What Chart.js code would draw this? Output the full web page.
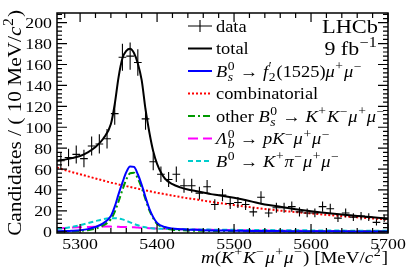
<!DOCTYPE html>
<html>
<head>
<meta charset="utf-8">
<script src="https://cdn.jsdelivr.net/npm/chart.js@4.4.0/dist/chart.umd.min.js"></script>
<style>
  html, body { margin: 0; padding: 0; background: #fff; }
  canvas { display: block; }
</style>
</head>
<body>
<canvas id="myChart" width="409" height="277"></canvas>
<script>
// data points (10 MeV bins)
const binCenters = [5275, 5285, 5295, 5305, 5315, 5325, 5335, 5345, 5355, 5365,
    5375, 5385, 5395, 5405, 5415, 5425, 5435, 5445, 5455, 5465,
    5475, 5485, 5495, 5505, 5515, 5525, 5535, 5545, 5555, 5565,
    5575, 5585, 5595, 5605, 5615, 5625, 5635, 5645, 5655, 5665,
    5675, 5685, 5695];
const counts = [68, 71, 74, 70, 82, 84, 89, 113, 167, 168,
    162, 108, 67, 55, 50, 55, 44, 44, 37, 43,
    26, 35, 27, 28, 26, 19, 33, 18, 23, 23,
    24, 19, 18, 18, 24, 22, 13, 18, 14, 15,
    14, 9, 13];
const errors = [8.2, 8.4, 8.6, 8.4, 9.1, 9.2, 9.4, 10.6, 12.9, 13,
    12.7, 10.4, 8.2, 7.4, 7.1, 7.4, 6.6, 6.6, 6.1, 6.6,
    5.1, 5.9, 5.2, 5.3, 5.1, 4.4, 5.7, 4.2, 4.8, 4.8,
    4.9, 4.4, 4.2, 4.2, 4.9, 4.7, 3.6, 4.2, 3.7, 3.9,
    3.7, 3, 3.6];

// fit curves, read at these masses
const massGrid = [5270, 5280, 5290, 5300, 5310, 5320, 5330, 5340, 5345, 5350,
    5355, 5360, 5365, 5370, 5375, 5380, 5385, 5390, 5395, 5400,
    5410, 5420, 5430, 5440, 5450, 5460, 5470, 5480, 5500, 5520,
    5540, 5560, 5580, 5600, 5620, 5640, 5660, 5680, 5700];
const totalFit = [68, 69, 70.5, 72.5, 76, 81, 89, 103, 122, 148,
    166, 173, 175, 171, 161, 145, 117, 95, 77, 65,
    51, 45.5, 42.5, 40.5, 39, 37.5, 36, 35, 32.5, 29.5,
    26, 24, 21.5, 19.5, 18, 16.5, 15, 13.8, 12.5];
const signalFit = [0.5, 0.7, 1, 1.5, 2.5, 4.5, 8, 15, 24, 36,
    47, 57, 62.5, 62, 55, 45, 33, 22, 14, 8.5,
    4.5, 3, 2.5, 2, 1.8, 1.5, 1.3, 1.2, 1, 0.8,
    0.7, 0.6, 0.5, 0.5, 0.4, 0.4, 0.3, 0.3, 0.3];
const combFit = [61.5, 59, 57, 55, 53, 51, 49, 47, 46.3, 45.3,
    44.5, 43.7, 42.8, 42, 41.2, 40.3, 39.5, 38.8, 38, 37.3,
    36, 34.6, 33.3, 32, 31, 29.8, 28.7, 27.6, 25.5, 23.6,
    21.8, 20.2, 18.8, 17.5, 16.2, 15, 13.8, 12.7, 11.7];
const otherBsFit = [0.2, 0.3, 0.5, 0.8, 1.5, 3, 6, 12, 19, 29,
    40, 50, 56, 56.5, 51, 42, 31, 20.5, 13, 7.5,
    3.5, 2, 1.5, 1.2, 1, 0.9, 0.8, 0.7, 0.6, 0.5,
    0.4, 0.4, 0.3, 0.3, 0.3, 0.2, 0.2, 0.2, 0.2];
const lambdaFit = [3, 3.5, 4, 4.3, 4.6, 4.8, 4.9, 4.9, 4.8, 4.7,
    4.6, 4.5, 4.3, 4.2, 4, 3.8, 3.6, 3.4, 3.3, 3.1,
    2.9, 2.7, 2.5, 2.3, 2.1, 2, 1.8, 1.7, 1.5, 1.3,
    1.1, 1, 0.9, 0.8, 0.7, 0.6, 0.6, 0.5, 0.5];
const b0Fit = [2.8, 3.5, 4.7, 6.3, 8.2, 10.2, 12, 13, 13, 12.6,
    11.8, 10.5, 9, 7.5, 6.2, 5, 4.2, 3.6, 3.2, 3,
    2.7, 2.5, 2.4, 2.3, 2.2, 2.1, 2, 1.9, 1.8, 1.7,
    1.6, 1.5, 1.4, 1.3, 1.2, 1.1, 1, 1, 0.9];

const xTicks = [5300, 5400, 5500, 5600, 5700];
const yTicks = [0, 20, 40, 60, 80, 100, 120, 140, 160, 180, 200];

const BLACK = "#000000";
const BLUE = "#0000ff";
const RED = "#ff0000";
const GREEN = "#009900";
const MAGENTA = "#ff00ff";
const CYAN = "#00cccc";

const plotFont = '"Liberation Serif", "Times New Roman", serif';
const SX = 1.15;
const SUP = 0.74;

let curve = (vals) => massGrid.map((m, i) => ({ x: m, y: vals[i] }));

let lineSet = (label, vals, color, dash, order) => ({
    type: 'line',
    label: label,
    data: curve(vals),
    borderColor: color,
    borderWidth: 2,
    borderDash: dash,
    pointRadius: 0,
    fill: false,
    cubicInterpolationMode: 'monotone',
    order: order
});

// rich text helpers (sub/superscripts)
let fontOf = (it, size) => (it ? 'italic ' : '') + size + 'px ' + plotFont;

function partW(ctx, p, size) {
    if ('t' in p) {
        ctx.font = fontOf(p.it, size);
        return ctx.measureText(p.t).width;
    }
    let s = size * SUP, w = 0;
    if (p.sup) { ctx.font = fontOf(p.supIt, s); w = Math.max(w, ctx.measureText(p.sup).width); }
    if (p.sub) { ctx.font = fontOf(p.subIt, s); w = Math.max(w, ctx.measureText(p.sub).width); }
    return w + size * 0.08;
}

function drawRich(ctx, parts, x, y, size, align, sx) {
    ctx.save();
    let w = 0;
    parts.forEach(p => w += partW(ctx, p, size));
    ctx.translate(x, y);
    ctx.scale(sx, 1);
    let cx = align === 'right' ? -w : (align === 'center' ? -w / 2 : 0);
    ctx.textAlign = 'left';
    ctx.textBaseline = 'alphabetic';
    ctx.fillStyle = BLACK;
    parts.forEach(p => {
        let pw = partW(ctx, p, size);
        if ('t' in p) {
            ctx.font = fontOf(p.it, size);
            ctx.fillText(p.t, cx, 0);
        } else {
            let s = size * SUP;
            if (p.sup) { ctx.font = fontOf(p.supIt, s); ctx.fillText(p.sup, cx + size * 0.03, -size * 0.4); }
            if (p.sub) { ctx.font = fontOf(p.subIt, s); ctx.fillText(p.sub, cx + size * 0.03, size * 0.25); }
        }
        cx += pw;
    });
    ctx.restore();
}

const T = (t, it) => ({ t: t, it: !!it });
const S = (sup, sub, subIt) => ({ sup: sup, sub: sub, supIt: false, subIt: !!subIt });

const legendRows = [
    { kind: 'data', parts: [T('data')] },
    { kind: 'line', color: BLACK, dash: [], parts: [T('total')] },
    { kind: 'line', color: BLUE, dash: [], parts: [T('B', 1), S('0', 's', 1), T(' \u2192 '), T('f', 1), S('\u2032', '2'), T('(1525)'), T('\u03bc', 1), S('+'), T('\u03bc', 1), S('\u2212')] },
    { kind: 'line', color: RED, dash: [2, 2], parts: [T('combinatorial')] },
    { kind: 'line', color: GREEN, dash: [7, 3, 2, 3], parts: [T('other '), T('B', 1), S('0', 's', 1), T(' \u2192 '), T('K', 1), S('+'), T('K', 1), S('\u2212'), T('\u03bc', 1), S('+'), T('\u03bc', 1), S('\u2212')] },
    { kind: 'line', color: MAGENTA, dash: [10, 5], parts: [T('\u039b', 1), S('0', 'b', 1), T(' \u2192 '), T('p', 1), T('K', 1), S('\u2212'), T('\u03bc', 1), S('+'), T('\u03bc', 1), S('\u2212')] },
    { kind: 'line', color: CYAN, dash: [5, 3], parts: [T('B', 1), S('0'), T(' \u2192 '), T('K', 1), S('+'), T('\u03c0', 1), S('\u2212'), T('\u03bc', 1), S('+'), T('\u03bc', 1), S('\u2212')] }
];
const legendY = [26, 48.5, 71, 93.5, 116, 138.5, 161];

const rootStyle = {
    id: 'rootStyle',
    afterDatasetsDraw(chart) {
        let ctx = chart.ctx, xs = chart.scales.x, ys = chart.scales.y, a = chart.chartArea;
        // error bars
        ctx.save();
        ctx.beginPath();
        ctx.rect(a.left, a.top, a.right - a.left, a.bottom - a.top);
        ctx.clip();
        ctx.strokeStyle = BLACK;
        ctx.lineWidth = 1.1;
        binCenters.forEach((m, i) => {
            let px = xs.getPixelForValue(m), py = ys.getPixelForValue(counts[i]);
            ctx.beginPath();
            ctx.moveTo(xs.getPixelForValue(m - 5), py);
            ctx.lineTo(xs.getPixelForValue(m + 5), py);
            ctx.moveTo(px, ys.getPixelForValue(counts[i] - errors[i]));
            ctx.lineTo(px, ys.getPixelForValue(counts[i] + errors[i]));
            ctx.stroke();
        });
        ctx.restore();

        // frame and ticks
        ctx.save();
        ctx.strokeStyle = BLACK;
        ctx.lineWidth = 1.5;
        ctx.strokeRect(a.left, a.top, a.right - a.left, a.bottom - a.top);
        ctx.lineWidth = 1.2;
        ctx.beginPath();
        for (let m = 5280; m <= 5700; m += 20) {
            let px = xs.getPixelForValue(m);
            let len = (m % 100 === 0) ? 9 : 5;
            ctx.moveTo(px, a.bottom); ctx.lineTo(px, a.bottom - len);
            ctx.moveTo(px, a.top); ctx.lineTo(px, a.top + len);
        }
        for (let v = 0; v <= 208; v += 4) {
            let py = ys.getPixelForValue(v);
            let len = (v % 20 === 0) ? 10 : 5;
            ctx.moveTo(a.left, py); ctx.lineTo(a.left + len, py);
            ctx.moveTo(a.right, py); ctx.lineTo(a.right - len, py);
        }
        ctx.stroke();

        // tick labels
        xTicks.forEach(m => drawRich(ctx, [T(String(m))], xs.getPixelForValue(m), 249, 15.5, 'center', SX));
        yTicks.forEach(v => drawRich(ctx, [T(String(v))], 52, ys.getPixelForValue(v) + 5.5, 15.5, 'right', SX));

        // axis titles
        drawRich(ctx, [T('m', 1), T('('), T('K', 1), S('+'), T('K', 1), S('\u2212'), T('\u03bc', 1), S('+'), T('\u03bc', 1), S('\u2212'), T(') [MeV/'), T('c', 1), S('2'), T(']')],
            a.right, 263, 16.5, 'right', SX);
        ctx.save();
        ctx.translate(21, a.top - 3);
        ctx.rotate(-Math.PI / 2);
        drawRich(ctx, [T('Candidates / ( 10 MeV/'), T('c', 1), S('2'), T(')')], 0, 0, 19, 'right', 1.12);
        ctx.restore();

        // LHCb label
        drawRich(ctx, [T('LHCb')], 378, 33, 19.5, 'right', SX);
        drawRich(ctx, [T('9 fb'), S('\u22121')], 378, 55, 19, 'right', SX);

        // legend
        legendRows.forEach((row, i) => {
            let y = legendY[i];
            ctx.save();
            ctx.strokeStyle = row.kind === 'data' ? BLACK : row.color;
            if (row.kind === 'data') {
                ctx.lineWidth = 1.1;
                ctx.beginPath();
                ctx.moveTo(188, y); ctx.lineTo(212, y);
                ctx.moveTo(200, y - 6); ctx.lineTo(200, y + 6);
                ctx.stroke();
            } else {
                ctx.lineWidth = 2;
                ctx.setLineDash(row.dash);
                ctx.beginPath();
                ctx.moveTo(188, y); ctx.lineTo(212, y);
                ctx.stroke();
            }
            ctx.restore();
            drawRich(ctx, row.parts, 216, y + 5.5, 16, 'left', SX);
        });
        ctx.restore();
    }
};

const config = {
    data: {
        datasets: [
            {
                type: 'scatter',
                label: 'data',
                data: binCenters.map((m, i) => ({ x: m, y: counts[i] })),
                pointRadius: 0,
                order: 0
            },
            lineSet('total', totalFit, BLACK, [], 1),
            lineSet('signal', signalFit, BLUE, [], 2),
            lineSet('other Bs', otherBsFit, GREEN, [7, 3, 2, 3], 3),
            lineSet('B0', b0Fit, CYAN, [5, 3], 4),
            lineSet('Lambda_b', lambdaFit, MAGENTA, [10, 5], 5),
            lineSet('combinatorial', combFit, RED, [2, 2], 6)
        ]
    },
    options: {
        responsive: false,
        animation: false,
        devicePixelRatio: 1,
        layout: { padding: { left: 57, right: 21, top: 13, bottom: 44 } },
        scales: {
            x: { type: 'linear', min: 5270, max: 5700, display: false },
            y: { type: 'linear', min: -1.2, max: 209.3, display: false }
        },
        plugins: {
            legend: { display: false },
            tooltip: { enabled: false }
        }
    },
    plugins: [rootStyle]
};

var myChart = new Chart(document.getElementById('myChart'), config);
</script>
</body>
</html>
